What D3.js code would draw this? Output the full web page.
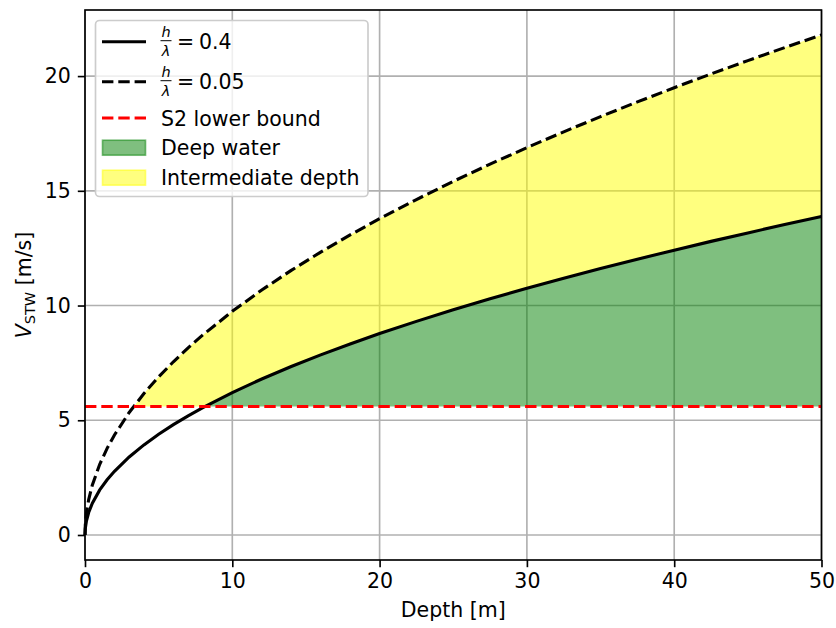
<!DOCTYPE html>
<html>
<head>
<meta charset="utf-8">
<script src="https://cdn.jsdelivr.net/npm/d3@7"></script>
<style>
  html, body { margin: 0; padding: 0; background: #fff; }
  svg { display: block; font-family: "DejaVu Sans", sans-serif; }
</style>
</head>
<body>
<svg id="chart" width="836" height="628"></svg>
<script>
// Water depth samples [m]
const depth = [0, 0.02, 0.1, 0.25, 0.5, 1, 1.5, 2, 3, 4, 5, 6, 7, 8, 10, 12, 14, 16, 18, 20,
  22.5, 25, 27.5, 30, 32.5, 35, 37.5, 40, 42.5, 45, 47.5, 50];
// Speed through water for h/lambda = 0.4 [m/s]
const vDeep = [0, 0.278, 0.621, 0.981, 1.388, 1.963, 2.404, 2.776, 3.400, 3.926, 4.389, 4.808, 5.193, 5.551,
  6.207, 6.799, 7.344, 7.851, 8.327, 8.778, 9.310, 9.814, 10.293, 10.750, 11.189, 11.612, 12.019,
  12.414, 12.796, 13.166, 13.527, 13.879];
// Speed through water for h/lambda = 0.05 [m/s]
const vShallow = [0, 0.436, 0.975, 1.541, 2.179, 3.082, 3.775, 4.359, 5.338, 6.164, 6.892, 7.550, 8.155, 8.718,
  9.747, 10.677, 11.532, 12.328, 13.076, 13.784, 14.620, 15.411, 16.163, 16.881, 17.571, 18.234, 18.874,
  19.493, 20.093, 20.675, 21.242, 21.794];
// S2 lower bound speed [m/s]
const s2Lower = 5.6;

const xTicks = [0, 10, 20, 30, 40, 50];
const yTicks = [0, 5, 10, 15, 20];

const FS = "20.5px";
const LW = 3.1;
const DASH = "11.4,4.9";

const svg = d3.select("#chart");
const L = 85, R = 821.5, T = 10, B = 560;

const x = d3.scaleLinear().domain([0, 50]).range([L, R]);
const y = d3.scaleLinear().domain([-1.09, 22.88]).range([B, T]);

// grid
const grid = svg.append("g");
grid.selectAll(".gx").data(xTicks).join("line")
  .attr("x1", d => x(d)).attr("x2", d => x(d)).attr("y1", T).attr("y2", B)
  .attr("stroke", "#b0b0b0").attr("stroke-width", 1.65);
grid.selectAll(".gy").data(yTicks).join("line")
  .attr("x1", L).attr("x2", R).attr("y1", d => y(d)).attr("y2", d => y(d))
  .attr("stroke", "#b0b0b0").attr("stroke-width", 1.65);

// Add exact crossing points with the bound so fills start where curves cross it
function withCrossing(vals) {
  const pts = [];
  for (let i = 0; i < depth.length; i++) {
    if (i > 0) {
      const a = vals[i - 1], b = vals[i];
      if ((a - s2Lower) * (b - s2Lower) < 0) {
        const t = (s2Lower - a) / (b - a);
        pts.push({ d: depth[i - 1] + t * (depth[i] - depth[i - 1]), v: s2Lower });
      }
    }
    pts.push({ d: depth[i], v: vals[i] });
  }
  return pts;
}

const deepPts = withCrossing(vDeep);
const shallowPts = withCrossing(vShallow);

// intermediate depth: between the h/lambda=0.05 curve and max(0.4 curve, bound)
const interpDeep = d3.scaleLinear().domain(deepPts.map(p => p.d)).range(deepPts.map(p => p.v));
const interpShallow = d3.scaleLinear().domain(shallowPts.map(p => p.d)).range(shallowPts.map(p => p.v));
const interPts = shallowPts.filter(p => p.v >= s2Lower);
const lowerBreaks = deepPts.filter(p => p.d >= interPts[0].d).map(p => p.d);
const allD = Array.from(new Set(interPts.map(p => p.d).concat(lowerBreaks))).sort((a, b) => a - b);

const yellowArea = d3.area()
  .x(d => x(d))
  .y0(d => y(Math.max(interpDeep(d), s2Lower)))
  .y1(d => y(interpShallow(d)));
svg.append("path").datum(allD).attr("d", yellowArea)
  .attr("fill", "yellow").attr("fill-opacity", 0.5);

const greenPts = deepPts.filter(p => p.v >= s2Lower);
const greenArea = d3.area()
  .x(p => x(p.d)).y0(y(s2Lower)).y1(p => y(p.v));
svg.append("path").datum(greenPts).attr("d", greenArea)
  .attr("fill", "green").attr("fill-opacity", 0.5);

// curves
const line = d3.line().x((v, i) => x(depth[i])).y(v => y(v));
svg.append("path").datum(vDeep).attr("d", line)
  .attr("fill", "none").attr("stroke", "#000").attr("stroke-width", LW);
svg.append("path").datum(vShallow).attr("d", line)
  .attr("fill", "none").attr("stroke", "#000").attr("stroke-width", LW)
  .attr("stroke-dasharray", DASH);

// S2 lower bound
svg.append("line")
  .attr("x1", x(0)).attr("x2", x(50)).attr("y1", y(s2Lower)).attr("y2", y(s2Lower))
  .attr("stroke", "red").attr("stroke-width", LW).attr("stroke-dasharray", DASH);

// axes
const xAxis = svg.append("g").attr("transform", `translate(0,${B})`)
  .call(d3.axisBottom(x).tickValues(xTicks).tickSize(7.2).tickPadding(6.5).tickFormat(d3.format("d")));
const yAxis = svg.append("g").attr("transform", `translate(${L},0)`)
  .call(d3.axisLeft(y).tickValues(yTicks).tickSize(7.2).tickPadding(7).tickFormat(d3.format("d")));
[xAxis, yAxis].forEach(g => {
  g.select(".domain").remove();
  g.selectAll(".tick line").attr("stroke", "#000").attr("stroke-width", 1.65);
  g.selectAll(".tick text").attr("fill", "#000").style("font-size", FS)
    .style("font-family", "'DejaVu Sans', sans-serif");
});

// frame
svg.append("rect").attr("x", L).attr("y", T).attr("width", R - L).attr("height", B - T)
  .attr("fill", "none").attr("stroke", "#000").attr("stroke-width", 1.65);

// axis labels
svg.append("text").attr("x", (L + R) / 2).attr("y", 617).attr("text-anchor", "middle")
  .style("font-size", FS).text("Depth [m]");
const yl = svg.append("text").attr("transform", `translate(30.5,${(T + B) / 2}) rotate(-90)`)
  .attr("text-anchor", "middle").style("font-size", FS);
yl.append("tspan").style("font-style", "italic").text("V");
yl.append("tspan").attr("dy", 4.5).style("font-size", "14.5px").text("STW");
yl.append("tspan").attr("dy", -4.5).text("\u00a0[m/s]");

// legend
const lg = svg.append("g");
lg.append("rect").attr("x", 95.5).attr("y", 20.5).attr("width", 272.5).attr("height", 176)
  .attr("rx", 4).attr("fill", "#fff").attr("fill-opacity", 0.8)
  .attr("stroke", "#cccccc").attr("stroke-width", 1.65);

const hx = 102, hw = 44, tx = 161;
const rows = [
  { yc: 41.7, type: "line", dash: null, color: "#000", frac: "0.4" },
  { yc: 81.7, type: "line", dash: DASH, color: "#000", frac: "0.05" },
  { yc: 118, type: "line", dash: DASH, color: "red", label: "S2 lower bound" },
  { yc: 147.7, type: "patch", color: "green", label: "Deep water" },
  { yc: 177.7, type: "patch", color: "yellow", label: "Intermediate depth" }
];
rows.forEach(r => {
  if (r.type === "line") {
    lg.append("line").attr("x1", hx).attr("x2", hx + hw).attr("y1", r.yc).attr("y2", r.yc)
      .attr("stroke", r.color).attr("stroke-width", LW)
      .attr("stroke-dasharray", r.dash);
  } else {
    lg.append("rect").attr("x", hx + 0.5).attr("y", r.yc - 7.5).attr("width", hw - 1).attr("height", 15)
      .attr("fill", r.color).attr("fill-opacity", 0.5)
      .attr("stroke", r.color).attr("stroke-opacity", 0.5).attr("stroke-width", 1.65);
  }
  if (r.frac) {
    const fx = tx + 5;
    lg.append("text").attr("x", fx).attr("y", r.yc - 4.5).attr("text-anchor", "middle")
      .style("font-size", "14.5px").style("font-style", "italic").text("h");
    lg.append("line").attr("x1", fx - 5.5).attr("x2", fx + 5.5).attr("y1", r.yc - 1).attr("y2", r.yc - 1)
      .attr("stroke", "#000").attr("stroke-width", 1);
    lg.append("text").attr("x", fx).attr("y", r.yc + 14.5).attr("text-anchor", "middle")
      .style("font-size", "14.5px").style("font-style", "italic").text("\u03bb");
    lg.append("text").attr("x", tx + 16).attr("y", r.yc + 7.5)
      .style("font-size", FS).text("=");
    lg.append("text").attr("x", tx + 38).attr("y", r.yc + 7.5)
      .style("font-size", FS).text(r.frac);
  } else {
    lg.append("text").attr("x", tx).attr("y", r.yc + 7.5)
      .style("font-size", FS).text(r.label);
  }
});
</script>
</body>
</html>
